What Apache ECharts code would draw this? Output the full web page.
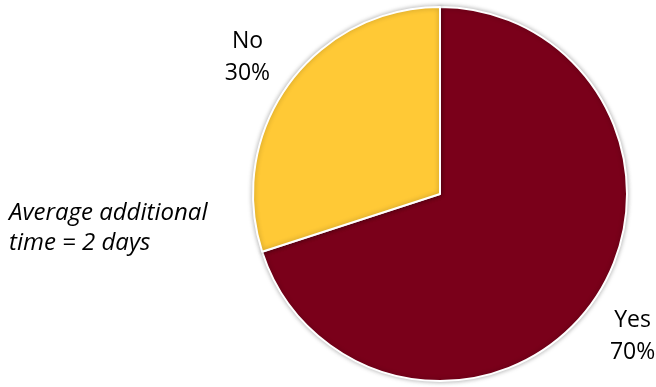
<!DOCTYPE html>
<html><head><meta charset="utf-8">
<script src="https://cdn.jsdelivr.net/npm/echarts@6/dist/echarts.min.js"></script>
<style>html,body{margin:0;padding:0;background:#fff}#c{width:656px;height:387px}</style>
</head><body><div id="c"></div>
<script>
const categories = ['Yes', 'No'];
const values = [70, 30];
const colors = ['#7A001A', '#FFC936'];
const noteLines = ['Average additional', 'time = 2 days'];

const cx = 440, cy = 194, R = 187, RL = 238;
const total = values.reduce((a, b) => a + b, 0);
function midAngle(i) {
  let cum = 0;
  for (let k = 0; k < i; k++) cum += values[k];
  return (cum + values[i] / 2) / total * 360;
}

const chart = echarts.init(document.getElementById('c'), null, {renderer: 'canvas'});
chart.setOption({
  animation: false,
  graphic: [{
    type: 'text', left: 9, top: 198,
    style: {
      text: noteLines.join('\n'),
      font: 'italic 24px "Open Sans"',
      lineHeight: 30,
      fill: '#000'
    }
  }],
  series: [{
    type: 'pie',
    center: [cx, cy],
    radius: R,
    startAngle: 90,
    clockwise: true,
    avoidLabelOverlap: false,
    data: categories.map((c, i) => ({name: c, value: values[i], itemStyle: {color: colors[i]}})),
    itemStyle: {borderColor: '#fff', borderWidth: 2, shadowBlur: 5, shadowColor: 'rgba(0,0,0,0.3)'},
    label: {
      show: true, position: 'outside', overflow: 'none',
      formatter: '{b}\n{d}%',
      fontFamily: 'Open Sans', fontSize: 23, lineHeight: 32, color: '#000'
    },
    labelLine: {show: false, length: 40, length2: 0},
    labelLayout: function (p) {
      const a = (90 - midAngle(p.dataIndex)) * Math.PI / 180;
      return {x: cx + RL * Math.cos(a), y: cy - RL * Math.sin(a) + 3, align: 'center', verticalAlign: 'middle'};
    },
    emphasis: {disabled: true}
  }]
});
</script></body></html>
